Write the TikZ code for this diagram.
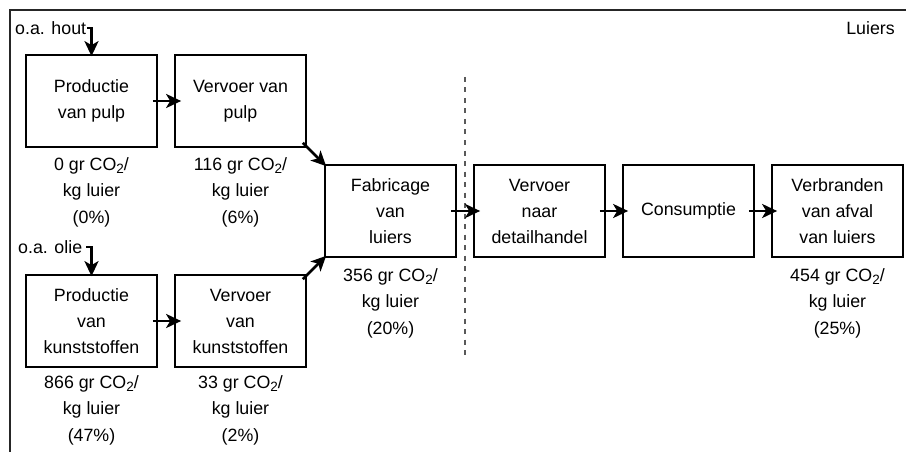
\documentclass[tikz,border=0pt]{standalone}
\usepackage{fontspec}
\setmainfont{Liberation Sans}
\usetikzlibrary{arrows.meta}
\newcommand{\cotwo}{CO\raisebox{-0.35ex}{\fontsize{13.5}{13.5}\selectfont 2}}
\tikzset{
  stepbox/.style={draw=black, line width=1.7pt, minimum width=131pt, minimum height=92pt, inner sep=0pt, align=center, font=\fontsize{17.8}{26}\selectfont},
  lbl/.style={align=center, inner sep=0pt, font=\fontsize{17.8}{26.5}\selectfont},
  txt/.style={inner sep=0pt, font=\fontsize{17.8}{26}\selectfont},
  arr/.style={line width=2.8pt, -{Stealth[length=15pt, width=14pt, inset=4pt]}},
  frame/.style={draw=black!85, line width=1.7pt},
  sep/.style={draw=black!65, line width=1.7pt, dash pattern=on 5pt off 5.5pt}
}
\begin{document}
\begin{tikzpicture}[x=1pt, y=-1pt]
\useasboundingbox (0,0) rectangle (906,452);
% frame
\coordinate (fr1) at (906,10);
\coordinate (fr2) at (10,10);
\coordinate (fr3) at (10,452);
\draw[frame] (fr1) -- (fr2) -- (fr3);
% separator
\coordinate (d1) at (465,77);
\coordinate (d2) at (465,356);
\draw[sep] (d1) -- (d2);

% boxes
\node[stepbox] (b1) at (91.5,101) {Productie\\van pulp};
\node[stepbox] (b2) at (240.5,101) {Vervoer van\\pulp};
\node[stepbox] (b3) at (91.5,321) {Productie\\van\\kunststoffen};
\node[stepbox] (b4) at (240.5,321) {Vervoer\\van\\kunststoffen};
\node[stepbox] (b5) at (390.5,211) {Fabricage\\van\\luiers};
\node[stepbox] (b6) at (539.5,211) {Vervoer\\naar\\detailhandel};
\node[stepbox] (b7) at (688.5,211) {Consumptie};
\node[stepbox] (b8) at (837.5,211) {Verbranden\\van afval\\van luiers};

% labels
\node[lbl] (l1) at (91.5,192) {0 gr \cotwo/\\kg luier\\(0\%)};
\node[lbl] (l2) at (240.5,192) {116 gr \cotwo/\\kg luier\\(6\%)};
\node[lbl] (l3) at (91.5,410) {866 gr \cotwo/\\kg luier\\(47\%)};
\node[lbl] (l4) at (240.5,410) {33 gr \cotwo/\\kg luier\\(2\%)};
\node[lbl] (l5) at (390.5,303) {356 gr \cotwo/\\kg luier\\(20\%)};
\node[lbl] (l8) at (837.5,303) {454 gr \cotwo/\\kg luier\\(25\%)};

% inputs
\node[txt, anchor=west] (hout) at (15,28) {o.a. hout};
\node[txt, anchor=west] (olie) at (18,247) {o.a. olie};
\node[txt, anchor=east] (luiers) at (895,28) {Luiers};

% connectors
\draw[arr] ([xshift=1pt]hout.east) -| ([yshift=-2pt]b1.north);
\draw[arr] ([xshift=4pt]olie.east) -| ([yshift=-2pt]b3.north);
\draw[arr] ([xshift=-5pt]b1.east) -- ([xshift=7pt]b2.west);
\draw[arr] ([xshift=-5pt]b3.east) -- ([xshift=7pt]b4.west);
\draw[arr] ([xshift=-4pt,yshift=5pt]b2.south east) -- ([xshift=2pt,yshift=-2pt]b5.north west);
\draw[arr] ([xshift=-4pt,yshift=-5pt]b4.north east) -- ([xshift=2pt,yshift=2pt]b5.south west);
\draw[arr] ([xshift=-6pt]b5.east) -- ([xshift=7pt]b6.west);
\draw[arr] ([xshift=-6pt]b6.east) -- ([xshift=6pt]b7.west);
\draw[arr] ([xshift=-6pt]b7.east) -- ([xshift=6pt]b8.west);
\end{tikzpicture}
\end{document}
